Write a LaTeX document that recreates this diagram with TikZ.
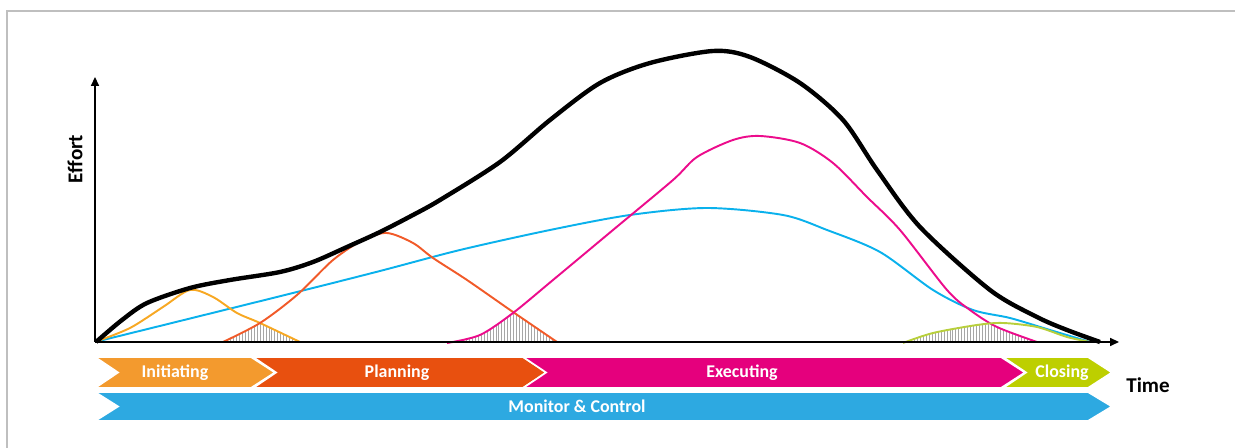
\documentclass[tikz,border=0pt]{standalone}
\usepackage{fontspec}
\setmainfont{Carlito}
\usetikzlibrary{arrows.meta,patterns.meta}

\definecolor{initc}{HTML}{F39A2E}
\definecolor{planc}{HTML}{E8500F}
\definecolor{execc}{HTML}{E5007D}
\definecolor{closec}{HTML}{BDCF00}
\definecolor{monc}{HTML}{2DA9E1}
\definecolor{initline}{HTML}{F7A823}
\definecolor{planline}{HTML}{F15A29}
\definecolor{execline}{HTML}{EC0C8C}
\definecolor{closeline}{HTML}{B8CF3C}
\definecolor{monline}{HTML}{0AB1EC}

\begin{document}
\begin{tikzpicture}[x=0.02cm,y=-0.02cm,
    phaselabel/.style={text=white,inner sep=0pt,
        font=\fontsize{10.2}{12}\selectfont\bfseries},
    axislabel/.style={inner sep=0pt,font=\fontsize{12}{14}\selectfont\bfseries},
    effortline/.style={line width=1.1pt,line join=round},
    overlap/.style={pattern={Lines[angle=90,distance=1.7pt,line width=0.35pt]},
        pattern color=black!35}]

\useasboundingbox (0,0) rectangle (1235,448);

% Frame, only top and left edges show.
\draw[black!25,line width=1.1pt] (7,448) -- (7,11) -- (1235,11);

% Effort curve of each phase.
\def\initcurve{plot[smooth] coordinates {(95,342) (130,328) (163,307)
    (190,290) (213,297) (237,313) (260,323) (300,342)}}
\def\plancurve{plot[smooth] coordinates {(223,342) (260,323) (297,295)
    (333,260) (363,240) (387,233) (413,243) (433,258) (467,280)
    (513,312) (557,342)}}
\def\execcurve{plot[smooth] coordinates {(447,343) (480,335) (513,313)
    (553,280) (613,230) (673,180) (697,157) (733,140) (760,136)
    (800,143) (833,163) (867,197) (900,230) (947,290) (970,310)
    (997,327) (1037,342)}}
\def\closecurve{plot[smooth] coordinates {(903,343) (933,333) (977,325)
    (1003,323) (1037,327) (1067,337) (1090,342)}}

% Hatch where two phases overlap.
\foreach \lower/\upper in {\initcurve/\plancurve,\plancurve/\execcurve,
    \execcurve/\closecurve} {
    \begin{scope}
        \clip \lower -- cycle;
        \fill[overlap] \upper -- cycle;
    \end{scope}
}

% Monitor and control runs the whole time.
\draw[effortline,monline]
    plot[smooth] coordinates {(95,342) (180,321) (297,292) (380,271)
    (460,250) (550,230) (630,215) (707,208) (783,215) (827,230)
    (880,252) (933,290) (973,310) (1010,318) (1050,330) (1090,342)};

\draw[effortline,initline] \initcurve;
\draw[effortline,planline] \plancurve;
\draw[effortline,execline] \execcurve;
\draw[effortline,closeline] \closecurve;

% Total effort.
\draw[line width=2.5pt,line join=round]
    plot[smooth] coordinates {(96,342) (122,320) (147,303) (190,288)
    (230,280) (280,272) (313,262) (347,247) (380,232) (413,215)
    (440,200) (500,162) (550,120) (600,83) (650,63) (713,51) (750,57)
    (800,83) (843,120) (877,170) (920,227) (990,290) (1037,317)
    (1067,330) (1100,342)};

% Axes.
\coordinate (O) at (95,342);
\coordinate (ytop) at (95,77);
\coordinate (xend) at (1119,342);
\draw[line width=0.8pt,-{Triangle[length=5pt,width=4.5pt]}] (O) -- (ytop);
\draw[line width=0.8pt,-{Triangle[length=5pt,width=4.5pt]}] (O) -- (xend);
\node[axislabel,rotate=90] (effort) at (75,159) {Effort};
\node[axislabel] (time) at (1148,385) {Time};

% Phase chevrons: left, tip, top, bottom, label x, colour, name, text.
\foreach \xa/\xb/\ya/\yb/\lx/\col/\nm/\lbl in {
    95/275/357/388/175/initc/init/Initiating,
    253/547/357/388/397/planc/plan/Planning,
    523/1025/357/388/742/execc/exec/Executing,
    1003/1112/357/388/1062/closec/close/Closing,
    95/1112/392/421/577/monc/mon/Monitor \& Control} {

    \filldraw[fill=\col,draw=white,line width=1pt,line join=miter]
        (\xa,\ya) -- (\xb-24,\ya) -- (\xb,{(\ya+\yb)/2})
        -- (\xb-24,\yb) -- (\xa,\yb) -- (\xa+23,{(\ya+\yb)/2}) -- cycle;

    \node[phaselabel] (\nm) at (\lx,{(\ya+\yb)/2}) {\lbl};
}

\end{tikzpicture}
\end{document}
